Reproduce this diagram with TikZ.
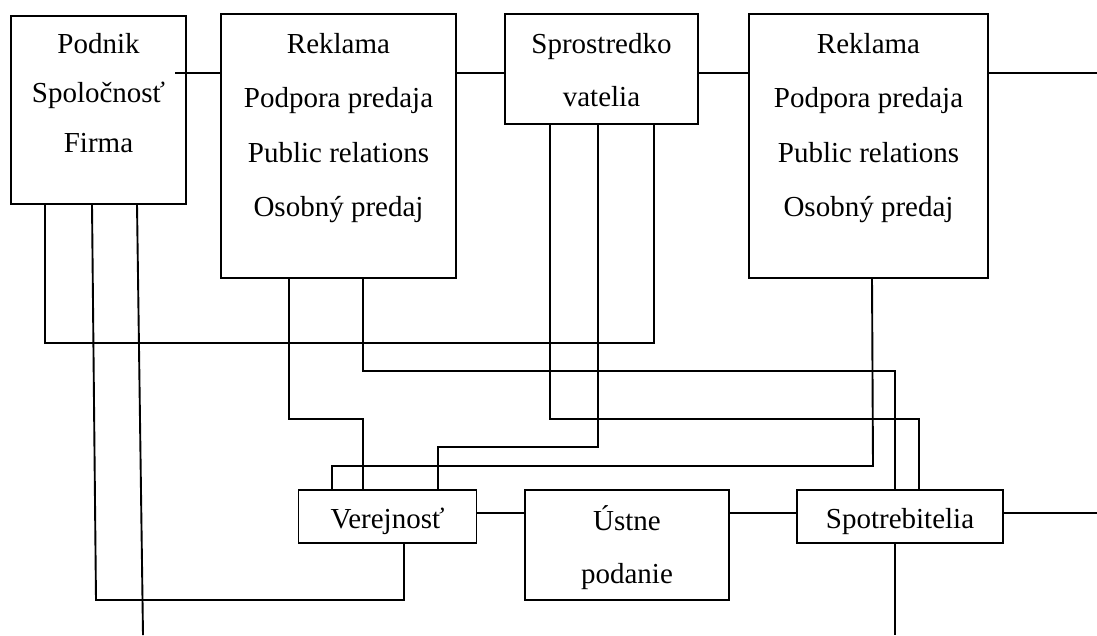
\documentclass[tikz,border=0pt]{standalone}
\usepackage{fontspec}
\setmainfont{Liberation Serif}
\begin{document}
\begin{tikzpicture}[x=1pt,y=-1pt,
  box/.style={draw,line width=1.9pt,inner sep=0pt,outer sep=0pt,rectangle},
  txt/.style={anchor=base,inner sep=0pt,font=\fontsize{29}{34}\selectfont},
  conn/.style={line width=1.9pt}]
\useasboundingbox (0,0) rectangle (1097,635);
% boxes
\node[box,minimum width=175,minimum height=188] (podnik) at (98.5,110) {};
\node[box,minimum width=235,minimum height=264] (rek1) at (338.5,146) {};
\node[box,minimum width=193,minimum height=110] (spr) at (601.5,69) {};
\node[box,minimum width=239,minimum height=264] (rek2) at (868.5,146) {};
\node[box,minimum width=178,minimum height=53] (ver) at (387.5,516.5) {};
\node[box,minimum width=204,minimum height=110] (ust) at (627,545) {};
\node[box,minimum width=206,minimum height=53] (spot) at (900,516.5) {};
% texts
\node[txt] (p1) at (98.5,53) {Podnik};
\node[txt] (p2) at (98.5,102) {Spoločnosť};
\node[txt] (p3) at (98.5,152) {Firma};
\node[txt] (r11) at (338.5,53) {Reklama};
\node[txt] (r12) at (338.5,107.5) {Podpora predaja};
\node[txt] (r13) at (338.5,162) {Public relations};
\node[txt] (r14) at (338.5,216) {Osobný predaj};
\node[txt] (s1) at (601.5,53) {Sprostredko};
\node[txt] (s2) at (601.5,106) {vatelia};
\node[txt] (r21) at (868.5,53) {Reklama};
\node[txt] (r22) at (868.5,107.5) {Podpora predaja};
\node[txt] (r23) at (868.5,162) {Public relations};
\node[txt] (r24) at (868.5,216) {Osobný predaj};
\node[txt] (v1) at (387.5,528) {Verejnosť};
\node[txt] (u1) at (627,530) {Ústne};
\node[txt] (u2) at (627,583) {podanie};
\node[txt] (sp1) at (900,528) {Spotrebitelia};
% free ends
\coordinate (pk) at (175,73);
\coordinate (etop) at (1097,73);
\coordinate (ebot) at (1097,513);
\coordinate (d3) at (143,635);
\coordinate (d9) at (895,635);
% top row
\draw[conn] (pk) -- (pk -| rek1.west);
\draw[conn] (rek1.east |- pk) -- (spr.west |- pk);
\draw[conn] (spr.east |- pk) -- (rek2.west |- pk);
\draw[conn] (rek2.east |- pk) -- (etop);
% bottom row
\draw[conn] (ver.east |- ebot) -- (ust.west |- ebot);
\draw[conn] (ust.east |- ebot) -- (spot.west |- ebot);
\draw[conn] (spot.east |- ebot) -- (ebot);
% vertical connections
\draw[conn] (45,0 |- podnik.south) |- (654,343) -- (654,0 |- spr.south);
\draw[conn] (92,0 |- podnik.south) -- (96,600) -| (404,0 |- ver.south);
\draw[conn] (137,0 |- podnik.south) -- (d3);
\draw[conn] (289,0 |- rek1.south) |- (363,419) -- (363,0 |- ver.north);
\draw[conn] (363,0 |- rek1.south) |- (895,371) -- (895,0 |- spot.north);
\draw[conn] (550,0 |- spr.south) |- (919,419) -- (919,0 |- spot.north);
\draw[conn] (598,0 |- spr.south) |- (438,447) -- (438,0 |- ver.north);
\draw[conn] (872,0 |- rek2.south) -- (873,466) -| (332,0 |- ver.north);
\draw[conn] (895,0 |- spot.south) -- (d9);
\end{tikzpicture}
\end{document}
